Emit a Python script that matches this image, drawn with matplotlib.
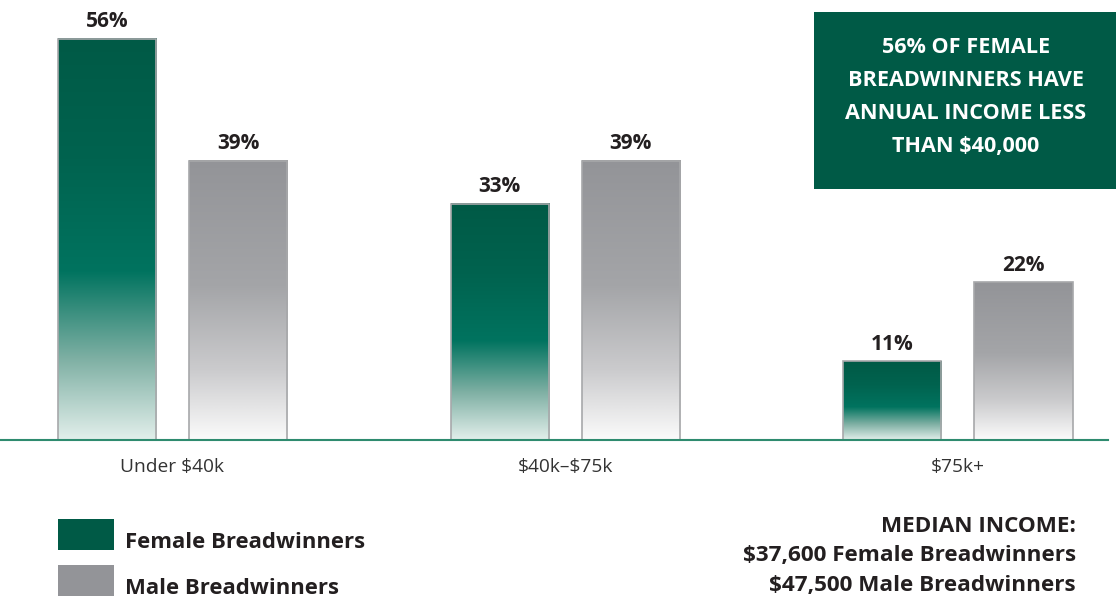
import numpy as np
import matplotlib
matplotlib.use("Agg")
import matplotlib.pyplot as plt
from matplotlib.colors import LinearSegmentedColormap
from matplotlib.patches import Rectangle

plt.rcParams["font.family"] = ["Open Sans", "DejaVu Sans"]
plt.rcParams["text.parse_math"] = False

categories = ["Under $40k", "$40k\u2013$75k", "$75k+"]
female = [56, 33, 11]
male = [39, 39, 22]
series_names = ["Female Breadwinners", "Male Breadwinners"]
callout = "56% OF FEMALE\nBREADWINNERS HAVE\nANNUAL INCOME LESS\nTHAN $40,000"
median_note = "MEDIAN INCOME:\n$37,600 Female Breadwinners\n$47,500 Male Breadwinners"

GREEN = "#005a46"
GRAY = "#939498"
TEXT = "#231f20"

# vertical gradients, index 0 = bottom of bar, 1 = top
female_cmap = LinearSegmentedColormap.from_list(
    "female", [(0.0, "#e2efeb"), (0.2, "#7fb0a4"), (0.42, "#00735f"),
               (0.7, "#00634f"), (1.0, GREEN)])
male_cmap = LinearSegmentedColormap.from_list(
    "male", [(0.0, "#fbfbfb"), (0.25, "#cbcbcd"), (0.55, "#a4a5a8"),
             (1.0, GRAY)])

W, H = 1116, 599
fig = plt.figure(figsize=(W / 100, H / 100), dpi=100)
ax = fig.add_axes([0, 159 / H, 1108 / W, 440 / H])

x = np.arange(len(categories))
width = 0.25
offset = 0.167
grad = np.linspace(0, 1, 256).reshape(-1, 1)


def gradient_bar(cx, h, cmap):
    x0, x1 = cx - width / 2, cx + width / 2
    ax.imshow(grad, cmap=cmap, origin="lower", aspect="auto",
              extent=(x0, x1, 0, h), interpolation="bilinear", zorder=2)
    ax.add_patch(Rectangle((x0, 0), width, h, fill=False,
                           edgecolor="#a7a8aa", linewidth=1.2, zorder=3))


for i in range(len(categories)):
    gradient_bar(x[i] - offset, female[i], female_cmap)
    gradient_bar(x[i] + offset, male[i], male_cmap)
    for cx, v in ((x[i] - offset, female[i]), (x[i] + offset, male[i])):
        ax.text(cx, v + 0.9, f"{v}%", ha="center", va="bottom",
                fontsize=15, fontweight="bold", color=TEXT)

ax.set_xlim(-0.439, 2.382)
ax.set_ylim(0, 61.4)
ax.set_xticks(x)
ax.set_xticklabels(categories, fontsize=13.8, color="#333333")
ax.tick_params(axis="x", length=0, pad=13)
ax.set_yticks([])
for s in ("top", "right", "left"):
    ax.spines[s].set_visible(False)
ax.spines["bottom"].set_color("#2e8b6f")
ax.spines["bottom"].set_linewidth(1.5)
ax.spines["bottom"].set_zorder(4)

# callout box
fig.patches.append(Rectangle((814 / W, 1 - 189 / H), 302 / W, 177 / H,
                             transform=fig.transFigure, facecolor=GREEN,
                             edgecolor="none"))
fig.text(966 / W, 1 - 97 / H, callout, ha="center", va="center",
         color="white", fontsize=15.6, fontweight="bold", linespacing=1.73)

# legend
for j, (name, col) in enumerate(zip(series_names, [GREEN, GRAY])):
    top = 519 + j * 46
    fig.patches.append(Rectangle((58 / W, 1 - (top + 31) / H), 56 / W, 31 / H,
                                 transform=fig.transFigure, facecolor=col,
                                 edgecolor="none"))
    fig.text(125 / W, 1 - (top + 23) / H, name, ha="left", va="center",
             fontsize=15.9, fontweight="bold", color=TEXT)

fig.text(1076 / W, 1 - 556 / H, median_note, ha="right", va="center",
         fontsize=16.2, fontweight="bold", color=TEXT, linespacing=1.5)

fig.savefig("out.png", dpi=100)
